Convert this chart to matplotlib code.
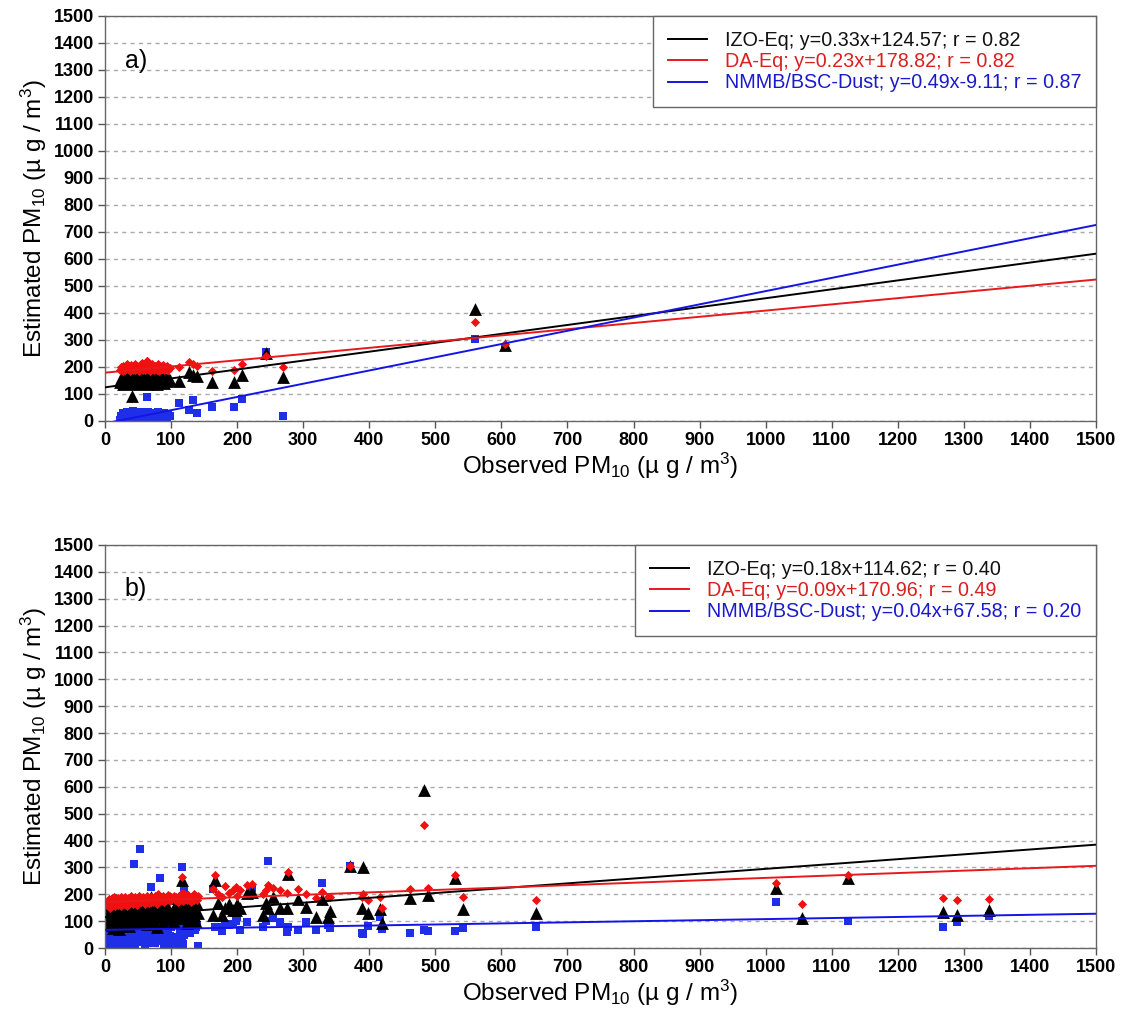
import numpy as np
import matplotlib.pyplot as plt

plt.rcParams['font.family'] = ['Liberation Sans', 'DejaVu Sans']
plt.rcParams['mathtext.fontset'] = 'custom'
plt.rcParams['mathtext.rm'] = 'Liberation Sans'
plt.rcParams['mathtext.default'] = 'regular'

# ---- panel a) data (observed vs estimated PM10) ----
a_obs = [22, 25, 27, 28, 30, 31, 33, 34, 35, 37, 38, 40, 41, 42, 44, 45, 46, 48, 49, 50,
         51, 52, 54, 55, 56, 57, 58, 60, 61, 62, 63, 64, 65, 66, 68, 69, 70, 71, 72, 74,
         75, 76, 78, 79, 80, 82, 83, 84, 86, 88, 89, 90, 92, 94, 96, 98,
         41, 63, 112, 127, 133, 139, 162, 195, 208, 244, 270, 560, 605]
a_izo = [145, 160, 138, 152, 165, 142, 155, 148, 170, 140, 158, 150, 162, 145, 168, 138, 155, 160, 142, 172,
         150, 146, 165, 140, 158, 152, 175, 144, 160, 148, 155, 138, 168, 150, 162, 145, 158, 172, 140, 155,
         165, 148, 160, 138, 152, 170, 145, 158, 150, 162, 140, 168, 155, 148, 160, 152,
         93, 160, 149, 182, 170, 165, 145, 145, 171, 253, 164, 415, 280]
a_da = [190, 200, 185, 205, 195, 188, 210, 198, 192, 202, 185, 208, 195, 190, 200, 212, 188, 198, 205, 192,
        185, 200, 210, 195, 215, 190, 198, 205, 188, 200, 222, 192, 195, 208, 185, 200, 190, 212, 198, 188,
        205, 195, 200, 190, 210, 185, 198, 202, 192, 208, 195, 188, 200, 205, 190, 198,
        195, 223, 200, 220, 210, 205, 186, 190, 212, 240, 201, 365, 285]
a_nmmb = [5, 18, 10, 28, 8, 22, 35, 12, 25, 15, 30, 8, 20, 38, 12, 25, 18, 32, 5, 22,
          28, 15, 35, 10, 25, 18, 30, 12, 22, 8, 28, 15, 35, 20, 10, 25, 18, 30, 12, 22,
          15, 28, 8, 20, 32, 12, 25, 18, 10, 22, 28, 15, 20, 12, 25, 18,
          22, 90, 67, 41, 78, 30, 53, 52, 82, 255, 18, 305, 275]
a_fits = [(0.33, 124.57), (0.23, 178.82), (0.49, -9.11)]
a_labels = ['IZO-Eq; y=0.33x+124.57; r = 0.82',
            'DA-Eq; y=0.23x+178.82; r = 0.82',
            'NMMB/BSC-Dust; y=0.49x-9.11; r = 0.87']

# ---- panel b) data ----
b_obs = [3, 4, 5, 6, 7, 8, 9, 10, 11, 12, 13, 14, 15, 16, 17, 18, 19, 20, 21, 22, 23, 24, 25, 26,
         27, 28, 29, 30, 31, 32, 33, 34, 35, 36, 37, 38, 39, 40,
         42, 43, 45, 46, 48, 49, 51, 52, 54, 55, 57, 58, 60, 61, 63, 64, 66, 67, 69, 70,
         72, 73, 75, 76, 78, 80, 81, 83, 85, 86, 88, 90, 91, 93, 95, 96, 98, 100,
         102, 104, 106, 108, 110, 112, 114, 116, 118, 120, 122, 124, 126, 128, 130, 132, 134, 136, 138, 140,
         44, 53, 69, 83, 116, 118, 141, 119, 163, 166, 171, 177, 182, 188, 194, 198, 200, 204,
         215, 222, 239, 244, 247, 254, 265, 275, 277, 292, 305, 320, 328, 338, 340, 371, 389, 391,
         398, 416, 419, 462, 483, 489, 530, 542, 652, 1015, 1055, 1125, 1268, 1290, 1338]
b_izo = [95, 130, 110, 150, 85, 120, 165, 100, 140, 75, 125, 155, 105, 180, 90, 135, 115, 160, 70, 145,
         125, 100, 170, 130, 88, 150, 118, 140, 95, 175, 128, 108, 155, 82, 138, 120, 165, 100,
         145, 125, 92, 160, 135, 112, 185, 98, 150, 128, 170, 105, 140, 118, 88, 155, 132, 110, 190, 125,
         100, 145, 160, 120, 78, 138, 150, 115, 172, 130, 95, 148, 125, 165, 108, 140, 185, 120,
         135, 98, 155, 128, 145, 112, 142, 150, 118, 170, 140, 92, 160, 130, 105, 148, 122, 138, 95, 165,
         150, 140, 130, 145, 253, 120, 130, 150, 123, 253, 168, 123, 150, 164, 140, 140, 164, 150,
         205, 210, 123, 168, 150, 190, 149, 149, 275, 182, 153, 116, 182, 116, 138, 305, 149, 302,
         130, 145, 93, 186, 588, 197, 260, 145, 130, 223, 112, 260, 134, 123, 141]
b_da = [165, 175, 158, 182, 170, 150, 178, 185, 162, 172, 190, 168, 155, 180, 175, 165, 185, 160, 172, 178,
        168, 190, 155, 182, 175, 170, 162, 188, 180, 165, 175, 158, 185, 172, 178, 168, 192, 175,
        180, 165, 188, 172, 160, 185, 178, 195, 170, 182, 175, 188, 165, 180, 192, 172, 185, 168, 178, 190,
        182, 170, 195, 178, 165, 185, 200, 175, 188, 180, 192, 172, 185, 178, 198, 182, 175, 190,
        185, 195, 178, 188, 170, 192, 182, 205, 175, 188, 195, 180, 198, 185, 172, 190, 200, 182, 188, 178,
        175, 180, 170, 185, 265, 185, 195, 200, 220, 270, 200, 190, 230, 205, 215, 228, 195, 215,
        235, 240, 200, 215, 235, 225, 215, 205, 282, 220, 200, 185, 210, 190, 190, 305, 190, 200,
        180, 190, 150, 220, 458, 225, 270, 190, 178, 242, 164, 270, 186, 179, 182]
b_nmmb = [10, 35, 20, 55, 5, 40, 70, 15, 48, 25, 60, 8, 38, 85, 18, 50, 30, 65, 12, 45,
          28, 75, 22, 58, 5, 42, 68, 32, 15, 52, 80, 25, 45, 10, 62, 35, 90, 20,
          55, 30, 72, 15, 48, 95, 38, 60, 22, 105, 45, 28, 68, 12, 52, 85, 35, 60, 18, 48,
          75, 30, 55, 20, 65, 40, 88, 25, 58, 42, 70, 15, 50, 100, 32, 62, 45, 80,
          5, 20, 15, 40, 10, 30, 60, 25, 75, 50, 70, 65, 85, 55, 80, 72, 90, 68, 78, 85,
          313, 368, 227, 260, 301, 15, 7, 216, 220, 78, 78, 63, 90, 85, 90, 100, 115, 67,
          95, 223, 78, 100, 324, 111, 97, 60, 80, 67, 95, 67, 242, 86, 75, 305, 56, 52,
          82, 115, 72, 56, 67, 63, 63, 74, 80, 171, 100, 100, 78, 97, 119]
b_fits = [(0.18, 114.62), (0.09, 170.96), (0.04, 67.58)]
b_labels = ['IZO-Eq; y=0.18x+114.62; r = 0.40',
            'DA-Eq; y=0.09x+170.96; r = 0.49',
            'NMMB/BSC-Dust; y=0.04x+67.58; r = 0.20']

line_cols = ['#000000', '#e8191c', '#1414e6']
text_cols = ['#111111', '#d92020', '#1a1acc']


def draw(ax, obs, izo, da, nmmb, fits, labels, tag):
    ax.scatter(obs, nmmb, marker='s', s=38, color='#1f2fe8', linewidths=0, zorder=2)
    ax.scatter(obs, izo, marker='^', s=85, color='black', linewidths=0, zorder=2)
    ax.scatter(obs, da, marker='D', s=22, color='#f01010', linewidths=0, zorder=2)

    xx = np.array([0, 1500])
    for (m, q), c, lab in zip(fits, line_cols, labels):
        ax.plot(xx, m * xx + q, color=c, lw=1.4, label=lab, zorder=3)

    ax.set_xlim(0, 1500)
    ax.set_ylim(0, 1500)
    ax.set_xticks(range(0, 1501, 100))
    ax.set_yticks(range(0, 1501, 100))
    ax.tick_params(direction='out', length=5, width=1, color='#555555', labelsize=13, pad=3)
    for lbl in ax.get_xticklabels() + ax.get_yticklabels():
        lbl.set_fontweight('bold')
    ax.grid(axis='y', linestyle=(0, (3, 3)), color='#aaaaaa', lw=1)
    ax.set_axisbelow(True)
    for sp in ax.spines.values():
        sp.set_color('#666666')
        sp.set_linewidth(1)

    ax.set_xlabel('Observed PM$_{10}$ (µ g / m$^3$)', fontsize=17.5, labelpad=1)
    ax.set_ylabel('Estimated PM$_{10}$ (µ g / m$^3$)', fontsize=17.5, labelpad=3)
    ax.text(0.02, 0.89, tag, transform=ax.transAxes, fontsize=18, va='center')

    leg = ax.legend(loc='upper right', bbox_to_anchor=(1, 1), borderaxespad=0,
                    fontsize=14.2, handlelength=2.0, handletextpad=0.9, labelspacing=0.12,
                    borderpad=0.75, fancybox=False, edgecolor='#666666', framealpha=1)
    leg.get_frame().set_linewidth(1)
    for t, c in zip(leg.get_texts(), text_cols):
        t.set_color(c)


fig = plt.figure(figsize=(11.24, 10.23), dpi=100)
ax1 = fig.add_axes([0.0934, 0.5885, 0.8817, 0.3959])
ax2 = fig.add_axes([0.0934, 0.0733, 0.8817, 0.394])

draw(ax1, a_obs, a_izo, a_da, a_nmmb, a_fits, a_labels, 'a)')
draw(ax2, b_obs, b_izo, b_da, b_nmmb, b_fits, b_labels, 'b)')

fig.savefig('out.png', dpi=100)
